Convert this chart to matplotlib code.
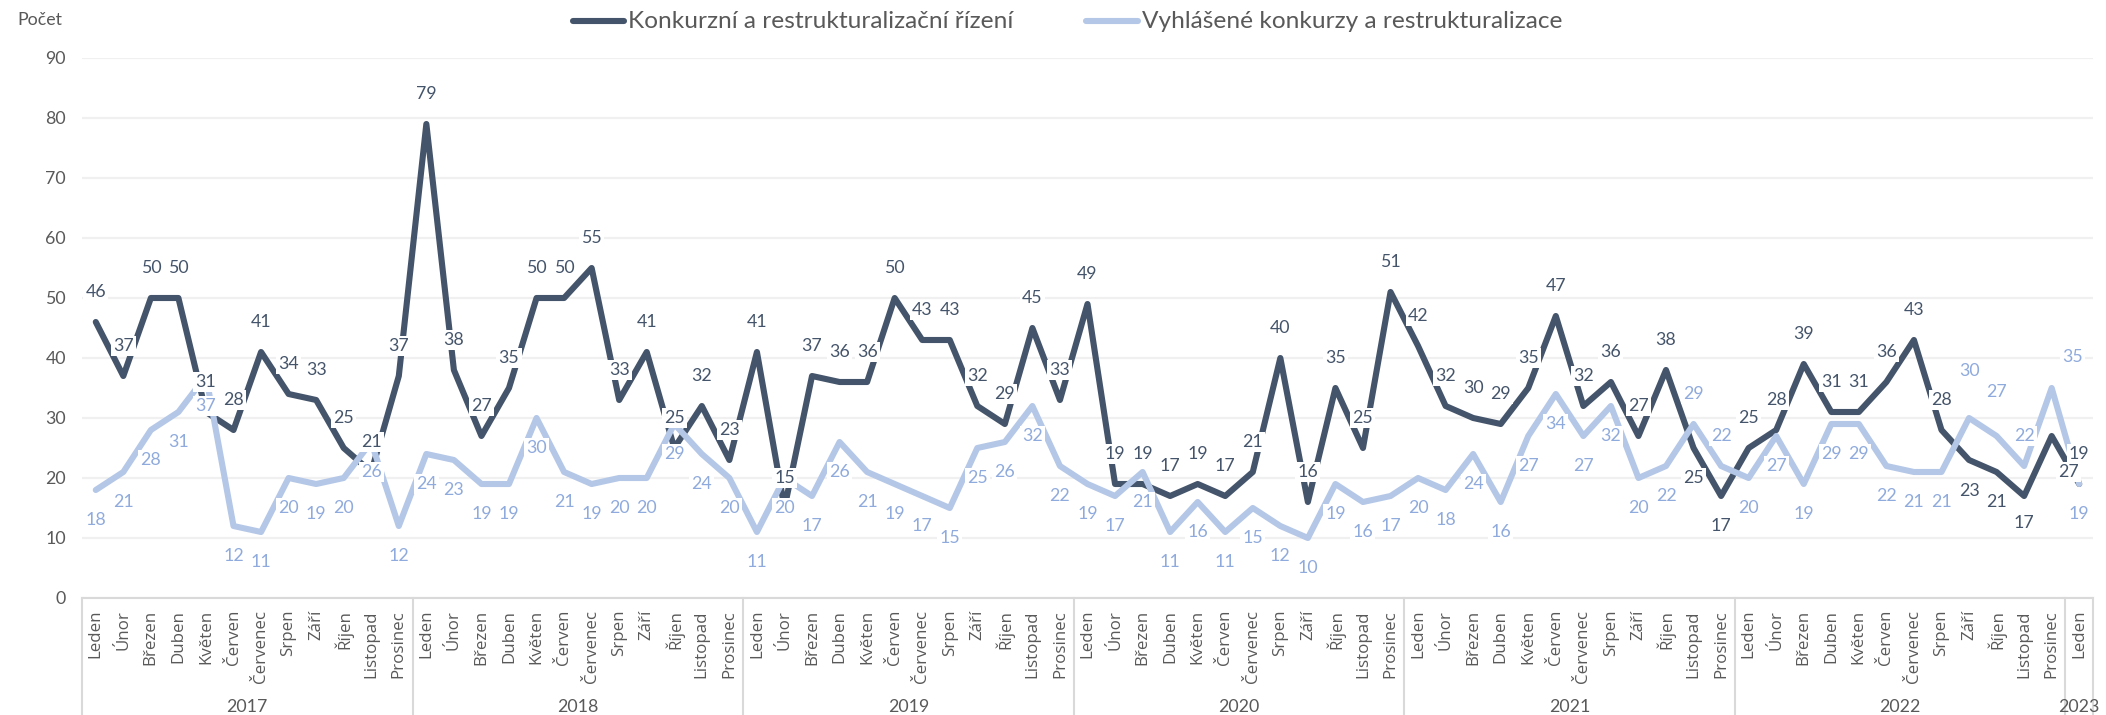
import matplotlib
matplotlib.use('Agg')
import matplotlib.pyplot as plt
from matplotlib.lines import Line2D
import matplotlib.transforms as mtransforms

# ---------------- data ----------------
years = ['2017', '2018', '2019', '2020', '2021', '2022', '2023']
months = ['Leden', 'Únor', 'Březen', 'Duben', 'Květen', 'Červen', 'Červenec',
          'Srpen', 'Září', 'Říjen', 'Listopad', 'Prosinec']
month_labels = months * 6 + ['Leden']

series1_name = 'Konkurzní a restrukturalizační řízení'
series2_name = 'Vyhlášené konkurzy a restrukturalizace'

rizeni = [46, 37, 50, 50, 31, 28, 41, 34, 33, 25, 21, 37,
          79, 38, 27, 35, 50, 50, 55, 33, 41, 25, 32, 23,
          41, 15, 37, 36, 36, 50, 43, 43, 32, 29, 45, 33,
          49, 19, 19, 17, 19, 17, 21, 40, 16, 35, 25, 51,
          42, 32, 30, 29, 35, 47, 32, 36, 27, 38, 25, 17,
          25, 28, 39, 31, 31, 36, 43, 28, 23, 21, 17, 27,
          19]
vyhlasene = [18, 21, 28, 31, 37, 12, 11, 20, 19, 20, 26, 12,
             24, 23, 19, 19, 30, 21, 19, 20, 20, 29, 24, 20,
             11, 20, 17, 26, 21, 19, 17, 15, 25, 26, 32, 22,
             19, 17, 21, 11, 16, 11, 15, 12, 10, 19, 16, 17,
             20, 18, 24, 16, 27, 34, 27, 32, 20, 22, 29, 22,
             20, 27, 19, 29, 29, 22, 21, 21, 30, 27, 22, 35,
             19]

# ---------------- style ----------------
W, H, DPI = 2106, 715, 100
DARK = '#44546A'
LIGHT = '#B4C7E7'
DARK_TXT = '#44546A'
LIGHT_TXT = '#8FAADC'
TICK_TXT = '#595959'
GRID = '#F0F0F0'
AXIS = '#D9D9D9'
FONT = 'Lato'
MFONT = 'Open Sans'
FS = 12.8

fig = plt.figure(figsize=(W / DPI, H / DPI), dpi=DPI)
left, right, top, bottom = 82, 2093, 58, 598
ax = fig.add_axes([left / W, 1 - bottom / H, (right - left) / W, (bottom - top) / H])

n = len(rizeni)
x = list(range(n))

ax.set_xlim(-0.5, n - 0.5)
ax.set_ylim(0, 90)
ax.set_yticks(range(0, 91, 10))
ax.set_yticklabels([str(v) for v in range(0, 91, 10)], fontfamily=FONT,
                   fontsize=FS, color=TICK_TXT)
ax.tick_params(axis='y', length=0, pad=11.5)
ax.set_xticks([])
ax.grid(axis='y', color=GRID, lw=1.6, zorder=0)
for s in ['left', 'right', 'top']:
    ax.spines[s].set_visible(False)
ax.spines['bottom'].set_color(AXIS)
ax.spines['bottom'].set_linewidth(1.5)

ax.plot(x, rizeni, color=DARK, lw=4.4, solid_capstyle='round',
        solid_joinstyle='round', zorder=3)
ax.plot(x, vyhlasene, color=LIGHT, lw=4.4, solid_capstyle='round',
        solid_joinstyle='round', zorder=4)

OFF = 21.5
# label placement exceptions (index -> (dx, dy) in points)
dark_off = {58: (0, -OFF), 59: (0, -OFF), 68: (0, -OFF - 1), 69: (0, -OFF),
            70: (0, -OFF + 2), 71: (12, -26)}
light_off = {58: (0, OFF), 59: (0, OFF), 68: (0, OFF + 12), 69: (0, OFF + 10),
             70: (0, OFF), 71: (15, 22)}

bbox = dict(boxstyle='square,pad=0.12', fc='white', ec='none')
for i, v in enumerate(rizeni):
    dx, dy = dark_off.get(i, (0, OFF))
    ax.annotate(str(v), (i, v), xytext=(dx, dy), textcoords='offset points',
                ha='center', va='center', fontsize=FS, fontfamily=FONT,
                color=DARK_TXT, bbox=bbox, zorder=6)
for i, v in enumerate(vyhlasene):
    dx, dy = light_off.get(i, (0, -OFF))
    ax.annotate(str(v), (i, v), xytext=(dx, dy), textcoords='offset points',
                ha='center', va='center', fontsize=FS, fontfamily=FONT,
                color=LIGHT_TXT, bbox=bbox, zorder=6)

# category axis (multi-level)
trans = mtransforms.blended_transform_factory(ax.transData, ax.transAxes)
ph = bottom - top
for i, lab in enumerate(month_labels):
    ax.text(i, -12 / ph, lab, rotation=90, ha='center', va='top',
            fontfamily=MFONT, fontsize=12.2, color=TICK_TXT, transform=trans)

bounds = [-0.5 + 12 * k for k in range(len(years))] + [n - 0.5]
for b in bounds:
    ax.plot([b, b], [0, -(H - bottom) / ph], color=AXIS, lw=1.5,
            transform=trans, clip_on=False, zorder=1)
for k, yr in enumerate(years):
    c = (bounds[k] + bounds[k + 1]) / 2
    ax.text(c, -(707 - bottom) / ph, yr, ha='center', va='center',
            fontfamily=FONT, fontsize=FS, color=TICK_TXT, transform=trans)

# y-axis title
fig.text(17 / W, 1 - 20 / H, 'Počet', ha='left', va='center', fontfamily=FONT,
         fontsize=FS, color=TICK_TXT)

# legend
ly = 1 - 21 / H
fig.add_artist(Line2D([573 / W, 624 / W], [ly, ly], color=DARK, lw=4.4,
                      solid_capstyle='round', transform=fig.transFigure))
fig.text(628 / W, ly, series1_name, ha='left', va='center', fontfamily=FONT,
         fontsize=17.6, color=TICK_TXT)
fig.add_artist(Line2D([1086 / W, 1138 / W], [ly, ly], color=LIGHT, lw=4.4,
                      solid_capstyle='round', transform=fig.transFigure))
fig.text(1142 / W, ly, series2_name, ha='left', va='center', fontfamily=FONT,
         fontsize=17.6, color=TICK_TXT)

fig.savefig('out.png', dpi=DPI, facecolor='white')
